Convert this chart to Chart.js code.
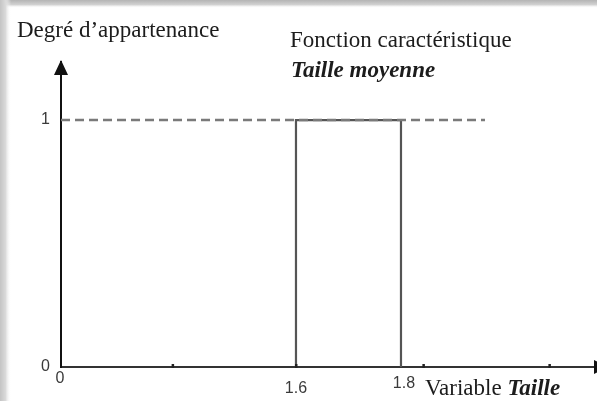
<!DOCTYPE html>
<html><head><meta charset="utf-8">
<script src="https://cdn.jsdelivr.net/npm/chart.js@4.4.1/dist/chart.umd.min.js"></script>
<style>html,body{margin:0;padding:0;background:#fff;overflow:hidden}canvas{display:block}</style>
</head><body><canvas id="c" width="597" height="401"></canvas>
<script>
// ---- data ----
const membershipX = [1.6, 1.6, 1.8, 1.8];   // characteristic function (rectangle)
const membershipY = [0, 1, 1, 0];
const referenceX = [0, 2.1];                // dashed level line at degree 1
const referenceY = [1, 1];
const xTickValues = [0, 1.6, 1.8];
const xTickLabels = ['0', '1.6', '1.8'];
const xMinorTicks = [0.76, 1.6, 1.88, 2.33];
const yTickValues = [0, 1];
const yTickLabels = ['0', '1'];
// schematic (non-uniform) abscissa of the drawing
const xKnotValues = [0, 1.6, 1.8, 2.5];
const xKnotFractions = [0, 0.4384, 0.6343, 1];

class PiecewiseScale extends Chart.LinearScale {
  getPixelForValue(v) {
    if (v === null || v === undefined || isNaN(v)) return NaN;
    const vs = xKnotValues, fs = xKnotFractions;
    let i = 1;
    while (i < vs.length - 1 && v > vs[i]) i++;
    const f = fs[i-1] + (v - vs[i-1]) / (vs[i] - vs[i-1]) * (fs[i] - fs[i-1]);
    return this.getPixelForDecimal(f);
  }
  getValueForPixel(p) {
    const f = this.getDecimalForPixel(p);
    const vs = xKnotValues, fs = xKnotFractions;
    let i = 1;
    while (i < fs.length - 1 && f > fs[i]) i++;
    return vs[i-1] + (f - fs[i-1]) / (fs[i] - fs[i-1]) * (vs[i] - vs[i-1]);
  }
}
PiecewiseScale.id = 'piecewise';
PiecewiseScale.defaults = Chart.LinearScale.defaults;
Chart.register(PiecewiseScale);

const toPts = (xs, ys) => xs.map((x, i) => ({x, y: ys[i]}));

const TEXT = '#1c1c1c';
const SERIF = '"Liberation Serif", "DejaVu Serif", serif';
const SANS = '"Liberation Sans", Arial, sans-serif';

const decor = {
  id: 'decor',
  beforeDraw(chart) {
    const ctx = chart.ctx, W = chart.width, H = chart.height;
    ctx.save();
    ctx.fillStyle = '#fff';
    ctx.fillRect(0, 0, W, H);
    let g = ctx.createLinearGradient(0, 0, 0, 8);
    g.addColorStop(0, '#b4b4b4'); g.addColorStop(0.6, '#d2d2d2'); g.addColorStop(1, 'rgba(255,255,255,0)');
    ctx.fillStyle = g; ctx.fillRect(0, 0, W, 8);
    g = ctx.createLinearGradient(0, 0, 11, 0);
    g.addColorStop(0, '#c4c4c4'); g.addColorStop(0.5, '#dadada'); g.addColorStop(1, 'rgba(255,255,255,0)');
    ctx.fillStyle = g; ctx.fillRect(0, 0, 11, H);
    ctx.restore();
  },
  afterDraw(chart) {
    const ctx = chart.ctx, xs = chart.scales.x, ys = chart.scales.y;
    const x0 = xs.getPixelForValue(0), y0 = ys.getPixelForValue(0);
    const top = chart.chartArea.top;
    ctx.save();
    // arrowheads
    ctx.fillStyle = '#111';
    ctx.beginPath();
    ctx.moveTo(x0, top - 2); ctx.lineTo(x0 - 7, top + 13); ctx.lineTo(x0 + 7, top + 13); ctx.closePath(); ctx.fill();
    ctx.beginPath();
    const xr = chart.chartArea.right;
    ctx.moveTo(xr + 10, y0); ctx.lineTo(xr - 3, y0 - 7); ctx.lineTo(xr - 3, y0 + 7); ctx.closePath(); ctx.fill();
    // minor tick marks
    ctx.fillStyle = '#222';
    xMinorTicks.forEach(v => { const px = xs.getPixelForValue(v); ctx.fillRect(px - 1, y0 - 3, 2.5, 4); });
    // x tick labels
    ctx.font = '16px ' + SANS;
    ctx.fillStyle = '#3a3a3a';
    ctx.textAlign = 'center'; ctx.textBaseline = 'middle';
    const dx = [-1, 0, 3], dy = [12, 22, 17];
    xTickValues.forEach((v, i) => ctx.fillText(xTickLabels[i], xs.getPixelForValue(v) + dx[i], y0 + dy[i]));
    // titles
    ctx.fillStyle = TEXT; ctx.textAlign = 'left'; ctx.textBaseline = 'alphabetic';
    ctx.font = '23px ' + SERIF;
    ctx.fillText('Degré d\u2019appartenance', 17, 37);
    ctx.fillText('Fonction caractéristique', 290, 47);
    ctx.font = 'italic bold 23px ' + SERIF;
    ctx.fillText('Taille moyenne', 291, 77);
    ctx.font = '23px ' + SERIF;
    const vx = 425, vy = 395;
    const pre = 'Variable ';
    ctx.fillText(pre, vx, vy);
    const w = ctx.measureText(pre).width;
    ctx.font = 'italic bold 23px ' + SERIF;
    ctx.fillText('Taille', vx + w, vy);
    ctx.restore();
  }
};

new Chart(document.getElementById('c'), {
  type: 'scatter',
  data: {
    datasets: [
      {
        data: toPts(referenceX, referenceY),
        showLine: true, borderColor: '#7a7a7a', borderWidth: 2.5, borderDash: [9, 5],
        pointRadius: 0, fill: false
      },
      {
        data: toPts(membershipX, membershipY),
        showLine: true, borderColor: '#555', borderWidth: 2.2,
        pointRadius: 0, fill: false, tension: 0
      }
    ]
  },
  options: {
    responsive: false, animation: false, events: [],
    layout: { padding: { top: 62, left: 0, right: 0, bottom: 0 } },
    plugins: { legend: { display: false }, tooltip: { enabled: false }, title: { display: false } },
    scales: {
      x: {
        type: 'piecewise', min: 0, max: 2.5,
        grid: { display: false, drawTicks: false },
        border: { display: true, color: '#333', width: 2 },
        ticks: { display: false },
        afterFit: s => { s.height = 34; }
      },
      y: {
        type: 'linear', min: 0, max: 1.235,
        grid: { display: false, drawTicks: false },
        border: { display: true, color: '#111', width: 2 },
        afterBuildTicks: s => { s.ticks = yTickValues.map(v => ({ value: v })); },
        ticks: {
          padding: 11, color: '#3a3a3a', font: { family: SANS, size: 16 },
          callback: (v) => yTickLabels[yTickValues.indexOf(v)]
        },
        afterFit: s => { s.width = 61; }
      }
    }
  },
  plugins: [decor]
});
</script></body></html>
